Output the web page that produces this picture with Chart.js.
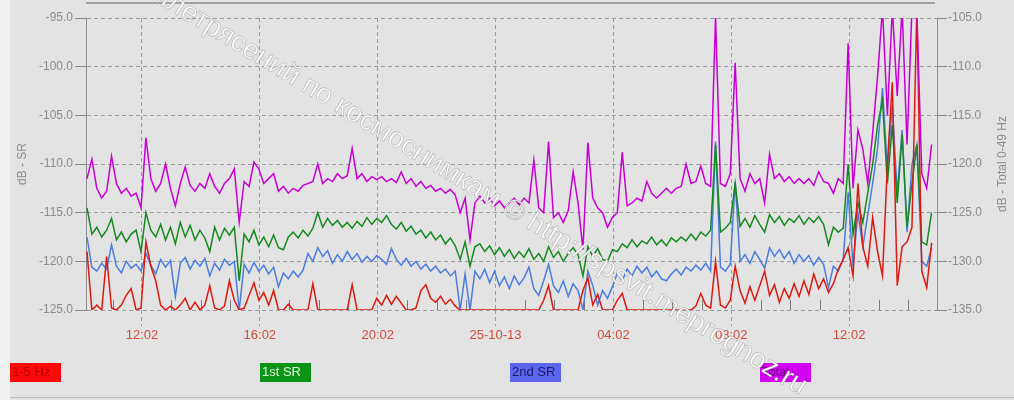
<!DOCTYPE html>
<html>
<head>
<meta charset="utf-8">
<script src="https://cdn.jsdelivr.net/npm/chart.js@4.4.1/dist/chart.umd.min.js"></script>
<style>
  body { margin: 0; background: #e3e3e3; }
  #wrap { position: relative; width: 1014px; height: 400px; }
</style>
</head>
<body>
<div id="wrap"><canvas id="srChart"></canvas></div>
<script>
// Dati: un punto ogni 10 minuti a partire dalle 10:10 del 24-10-13
const startMin = 610;          // minuti dalla mezzanotte del 24-10
const stepMin = 10;
const majorTicks = [722, 962, 1202, 1442, 1682, 1922, 2162];
const majorLabels = ['12:02', '16:02', '20:02', '25-10-13', '04:02', '08:02', '12:02'];
const seriesNames = ['1-5 Hz', '1st SR', '2nd SR', 'Total'];

// 1-5 Hz (dB - SR)
const hz15 = [
  -119.0, -125.0, -124.5, -125.0, -119.5, -124.8, -125.0, -124.5, -123.5, -122.8,
  -125.0, -124.8, -118.0, -120.5, -122.0, -124.5, -125.0, -124.6, -125.0, -124.5,
  -123.8, -125.0, -124.2, -125.0, -124.5, -122.5, -124.8, -125.0, -124.6, -122.0,
  -124.0, -125.0, -124.8, -123.5, -122.2, -124.0, -123.2, -124.5, -123.0, -125.0,
  -125.0, -124.4, -125.0, -125.0, -125.0, -125.0, -122.3, -125.0, -125.0, -125.0,
  -125.0, -125.0, -125.0, -125.0, -122.4, -125.0, -125.0, -125.0, -125.0, -123.8,
  -124.5, -123.5, -124.4, -123.6, -124.3, -125.0, -125.0, -124.8, -123.0, -122.4,
  -123.8, -124.2, -123.6, -124.4, -123.9, -124.6, -125.0, -125.0, -125.0, -125.0,
  -125.0, -125.0, -125.0, -125.0, -125.0, -125.0, -125.0, -125.0, -125.0, -125.0,
  -125.0, -125.0, -125.0, -124.0, -122.5, -125.0, -125.0, -125.0, -125.0, -125.0,
  -125.0, -123.0, -121.7, -124.5, -123.4, -125.0, -125.0, -125.0, -124.0, -123.3,
  -125.0, -125.0, -125.0, -125.0, -125.0, -125.0, -125.0, -125.0, -125.0, -125.0,
  -125.0, -125.0, -125.0, -125.0, -124.6, -123.3, -124.5, -124.8, -120.0, -124.5,
  -124.8, -124.0, -120.5, -123.0, -124.3, -122.6, -124.0, -122.5, -121.0, -123.5,
  -122.4, -124.2, -122.8, -123.8, -122.3, -123.6, -122.0, -123.4, -121.3, -122.8,
  -121.8, -123.2, -122.3, -120.8, -119.8, -118.6, -121.5, -112.0, -118.5, -120.5,
  -115.5, -119.0, -121.5, -110.0, -101.6, -122.5, -118.5, -118.0, -116.5, -94.0,
  -121.0, -122.7, -118.1
];

// 1st SR (dB - SR)
const sr1 = [
  -114.5, -117.2, -116.5, -117.5, -116.8, -115.6, -117.8, -117.0, -118.0, -117.2,
  -116.8, -119.0, -115.0, -116.8, -117.5, -116.2, -117.8, -116.5, -118.2, -116.0,
  -117.5, -116.3, -117.8, -116.8, -117.6, -119.0, -116.5, -117.8, -116.6, -117.3,
  -116.5, -122.0, -117.2, -118.0, -116.8, -118.3, -117.5, -118.5, -117.3, -118.6,
  -118.8, -117.5, -117.0, -117.6, -116.8, -117.4, -116.6, -115.0, -116.5, -115.6,
  -116.3, -115.8, -116.5, -116.0, -116.6, -115.9, -116.4, -115.5, -116.2, -115.6,
  -116.0, -115.3, -116.2, -116.7, -116.0, -116.9, -116.4, -117.2, -116.8, -117.6,
  -117.0, -117.8, -117.3, -118.2, -117.6, -118.4, -119.8, -118.0, -120.5, -118.5,
  -118.2, -119.0, -118.4, -119.3, -118.6, -119.5, -118.8, -119.7, -119.0, -119.6,
  -118.7, -119.8, -119.2, -120.0, -118.5, -119.6, -119.0, -120.0, -119.2, -118.6,
  -119.3, -121.5, -118.5, -119.5, -118.7, -119.8, -120.0, -118.8, -119.0, -118.2,
  -118.6, -117.8, -118.5, -117.9, -118.2, -117.5, -118.3, -117.8, -118.4, -117.6,
  -118.0, -117.5, -117.9, -117.2, -117.8, -117.0, -117.4, -116.8, -108.0, -117.0,
  -116.6, -116.0, -112.0, -116.4, -115.6, -116.5, -115.3, -116.2, -117.0, -115.2,
  -116.0, -115.4, -116.3, -115.6, -116.0, -115.3, -116.2, -115.5, -116.0, -115.4,
  -116.2, -118.3, -116.5, -117.0, -116.6, -110.0, -117.2, -114.0, -116.0, -113.0,
  -110.0, -106.0, -103.5, -112.0, -106.0, -114.0, -107.0, -116.5, -112.0, -108.0,
  -118.0, -118.3, -115.0
];

// 2nd SR (dB - SR)
const sr2 = [
  -117.5, -120.6, -121.0, -120.2, -120.8, -118.3, -120.5, -121.2, -120.0, -120.7,
  -120.3, -121.0, -119.2, -120.4, -121.3, -119.8, -120.6, -119.9, -123.6, -120.2,
  -119.6, -120.8, -119.9, -120.5, -119.7, -121.5, -120.2, -120.9, -119.8, -120.4,
  -120.0, -125.0, -120.3, -121.2, -120.1, -121.0, -120.4, -121.3, -120.6, -122.6,
  -121.2, -121.8, -121.0, -121.6, -120.9, -119.2, -120.0, -118.6, -119.5, -118.9,
  -120.2, -119.3, -120.0, -119.0, -119.8, -119.2, -120.1, -119.5, -120.0, -119.4,
  -119.8, -120.3, -118.7, -119.8, -120.4, -119.7, -120.5, -120.0, -120.8, -120.3,
  -121.0, -120.5, -121.2, -120.8, -121.5, -121.0, -125.0, -121.3, -125.0, -121.0,
  -121.8, -120.8, -122.2, -121.0, -122.5, -121.6, -122.8, -121.5, -122.4, -121.7,
  -120.6, -122.8, -123.5, -122.0, -120.3, -122.5, -123.2, -122.0, -123.6, -122.3,
  -123.0, -125.0, -121.0, -122.5, -124.5, -123.0, -123.8, -122.6, -121.2, -122.0,
  -120.8, -121.5, -120.5, -121.2, -120.6, -121.6, -121.0, -121.8, -122.0, -121.3,
  -120.8, -121.4, -120.6, -121.0, -120.4, -120.9, -120.2, -121.0, -107.7, -120.6,
  -121.0, -120.3, -111.8, -120.0, -119.3, -120.2, -119.0, -119.8, -120.7, -118.6,
  -119.5, -118.8, -119.7, -119.0, -120.2, -119.3, -120.0, -119.4, -120.4, -119.6,
  -120.3, -122.7, -120.5, -121.0, -119.8, -112.9, -120.5, -115.0, -118.5, -115.2,
  -112.0, -108.4, -102.2, -110.5, -104.0, -113.0, -106.5, -117.0, -110.0, -108.0,
  -120.0, -120.5, -118.6
];

// Total 0-49 Hz (asse destro)
const total = [
  -121.5, -119.5, -122.5, -123.5, -122.8, -119.2, -122.0, -123.0, -122.5, -123.3,
  -123.0, -124.5, -117.3, -121.5, -122.8, -122.0, -120.0, -122.5, -124.3, -122.0,
  -120.3, -122.2, -122.8, -122.0, -122.5, -121.0, -122.3, -123.0, -122.0, -121.5,
  -120.5, -126.0, -121.8, -122.3, -119.8, -120.5, -122.0, -121.5, -121.0, -122.8,
  -122.3, -123.0, -122.5, -122.8, -122.2, -122.0, -121.8, -120.0, -122.0, -121.5,
  -121.8, -121.0, -121.5, -121.2, -118.4, -121.5, -121.0, -121.8, -121.3, -121.6,
  -121.3, -121.8, -121.5, -121.9, -120.8, -122.0, -121.5, -122.3, -121.8, -122.5,
  -122.2, -122.8, -122.5, -123.0, -122.6, -123.2, -125.0, -123.5, -127.8, -124.0,
  -123.3, -124.0, -123.5, -124.3, -123.8, -124.5, -124.0, -123.5, -124.2, -123.5,
  -124.0, -119.6, -124.5, -125.0, -117.7, -125.5, -125.0, -126.0, -124.8, -120.8,
  -124.0, -128.8, -117.8, -123.5, -124.5, -125.0, -126.5, -125.5, -125.0, -118.8,
  -124.3, -124.0, -123.5, -123.8, -121.8, -123.0, -123.5, -123.0, -122.5, -123.0,
  -122.5, -122.3, -120.0, -122.0, -121.8, -120.2, -122.0, -122.3, -104.8, -122.0,
  -122.3, -121.0, -109.6, -121.5, -122.8, -121.0, -122.0, -121.5, -124.0, -119.0,
  -121.5, -121.0, -121.8, -121.3, -122.0, -121.5, -122.0, -121.5, -122.2, -120.8,
  -121.8, -122.0, -123.0, -121.5, -122.0, -107.6, -122.5, -116.5, -118.5, -122.0,
  -116.8, -111.0, -104.0, -115.0, -104.0, -113.0, -104.0, -118.0, -104.0, -104.5,
  -121.0, -122.5, -118.0
];

const fontFam = '"Liberation Sans", Arial, sans-serif';
const toPoints = vals => vals.map((v, i) => ({ x: startMin + i * stepMin, y: v }));

// sfondo, tacche orarie, titoli assi, legenda e filigrana
const decor = {
  id: 'decor',
  beforeDraw(chart) {
    const ctx = chart.ctx;
    ctx.save();
    ctx.fillStyle = '#e3e3e3';
    ctx.fillRect(0, 0, chart.width, chart.height);
    ctx.fillStyle = '#f1f1f1';
    ctx.fillRect(0, 0, 10, chart.height);
    ctx.strokeStyle = '#a2a2a2';
    ctx.lineWidth = 2;
    ctx.beginPath();
    ctx.moveTo(chart.chartArea.left, 3);
    ctx.lineTo(chart.chartArea.right - 2, 3);
    ctx.stroke();
    ctx.lineWidth = 1;
    ctx.strokeStyle = '#bdbdbd';
    ctx.beginPath();
    ctx.moveTo(10, 397.5);
    ctx.lineTo(chart.width, 397.5);
    ctx.stroke();
    ctx.restore();
  },
  beforeDatasetsDraw(chart) {
    const ctx = chart.ctx;
    const xs = chart.scales.x;
    const bottom = chart.chartArea.bottom;
    ctx.save();
    ctx.strokeStyle = '#7a7a7a';
    ctx.lineWidth = 1;
    for (let t = majorTicks[0] - 60; t < xs.max; t += 60) {
      if (t < xs.min || majorTicks.includes(t)) continue;
      const px = Math.round(xs.getPixelForValue(t)) + 0.5;
      ctx.beginPath();
      ctx.moveTo(px, bottom - 10);
      ctx.lineTo(px, bottom);
      ctx.stroke();
    }
    ctx.restore();
  },
  afterDraw(chart) {
    const ctx = chart.ctx;
    const mid = (chart.chartArea.top + chart.chartArea.bottom) / 2;
    ctx.save();
    // titoli degli assi
    ctx.fillStyle = '#8c8c8c';
    ctx.font = '12px ' + fontFam;
    ctx.textAlign = 'center';
    ctx.textBaseline = 'middle';
    [[23, 'dB - SR'], [1003, 'dB - Total 0-49 Hz']].forEach(([x, txt]) => {
      ctx.save();
      ctx.translate(x, mid);
      ctx.rotate(-Math.PI / 2);
      ctx.fillText(txt, 0, 0);
      ctx.restore();
    });
    // legenda a riquadri
    const legColors = [['#fb0a0a', '#b80000'], ['#0b9416', '#dff5df'], ['#5b66f0', '#1c1c5e'], ['#d200f2', '#6a0080']];
    ctx.textAlign = 'left';
    ctx.font = '13px ' + fontFam;
    seriesNames.forEach((name, i) => {
      const bx = 10 + i * 250;
      ctx.fillStyle = legColors[i][0];
      ctx.fillRect(bx, 363, 51, 19);
      ctx.fillStyle = legColors[i][1];
      ctx.fillText(name, bx + 2, 372.5);
    });
    // filigrana
    ctx.translate(333, 110);
    ctx.rotate(31.4 * Math.PI / 180);
    ctx.font = '28px ' + fontFam;
    ctx.textBaseline = 'alphabetic';
    ctx.fillStyle = '#ffffff';
    ctx.strokeStyle = 'rgba(115,115,115,0.4)';
    ctx.lineWidth = 0.8;
    ctx.textAlign = 'right';
    ctx.fillText('Прогноз землетрясений по ', 0, 0);
    ctx.strokeText('Прогноз землетрясений по ', 0, 0);
    ctx.textAlign = 'left';
    ctx.fillText('космоснимкам © http://spsvit.meprognoz.ru', 0, 0);
    ctx.strokeText('космоснимкам © http://spsvit.meprognoz.ru', 0, 0);
    ctx.restore();
  }
};

const ctx = document.getElementById('srChart').getContext('2d');
new Chart(ctx, {
  type: 'line',
  data: {
    datasets: [
      { label: seriesNames[3], data: toPoints(total), yAxisID: 'y2', borderColor: '#c800d4' },
      { label: seriesNames[0], data: toPoints(hz15), yAxisID: 'y', borderColor: '#dc1a10' },
      { label: seriesNames[1], data: toPoints(sr1), yAxisID: 'y', borderColor: '#15891f' },
      { label: seriesNames[2], data: toPoints(sr2), yAxisID: 'y', borderColor: '#4a7ddf' }
    ]
  },
  options: {
    responsive: true,
    maintainAspectRatio: false,
    animation: false,
    elements: {
      point: { radius: 0 },
      line: { borderWidth: 1.5, tension: 0 }
    },
    layout: { padding: { top: 18 } },
    plugins: {
      legend: { display: false },
      tooltip: { enabled: false }
    },
    scales: {
      x: {
        type: 'linear',
        min: 608,
        max: 2341,
        afterBuildTicks: s => { s.ticks = majorTicks.map(v => ({ value: v })); },
        afterFit: s => { s.height = 90; },
        ticks: {
          autoSkip: false,
          maxRotation: 0,
          padding: 2,
          color: '#cf4c3c',
          font: { size: 13, family: fontFam },
          callback: v => majorLabels[majorTicks.indexOf(v)]
        },
        grid: { color: '#9c9c9c', tickLength: 16, tickBorderDash: [4, 3] },
        border: { display: false, dash: [4, 3] }
      },
      y: {
        position: 'left',
        min: -125,
        max: -95,
        afterFit: s => { s.width = 86; },
        ticks: {
          stepSize: 5,
          padding: 2,
          color: '#8c8c8c',
          font: { size: 12, family: fontFam },
          callback: v => v.toFixed(1)
        },
        grid: { color: '#9c9c9c', tickLength: 11, tickColor: '#8a8a8a', tickBorderDash: [] },
        border: { color: '#8a8a8a', dash: [4, 3] }
      },
      y2: {
        position: 'right',
        min: -135,
        max: -105,
        afterFit: s => { s.width = 77; },
        ticks: {
          stepSize: 5,
          padding: 1,
          color: '#8c8c8c',
          font: { size: 12, family: fontFam },
          callback: v => v.toFixed(1)
        },
        grid: { drawOnChartArea: false, tickLength: 10, tickColor: '#8a8a8a' },
        border: { color: '#8a8a8a' }
      }
    }
  },
  plugins: [decor]
});
</script>
</body>
</html>
